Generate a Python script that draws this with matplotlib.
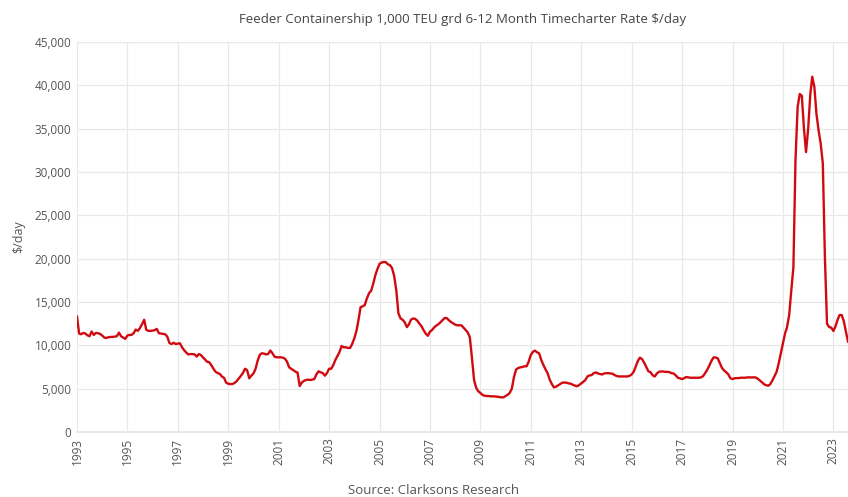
import pandas as pd
import matplotlib.pyplot as plt
import matplotlib.dates as mdates
from matplotlib.ticker import FuncFormatter

# Monthly rates ($/day), Jan 1993 onwards
rates_1993_1997 = [
    13300, 11360, 11280, 11430, 11360, 11160, 11050, 11590, 11200, 11430, 11400, 11320,
    11130, 10890, 10850, 10930, 10970, 10970, 11010, 11050, 11470, 11050, 10890, 10740,
    11130, 11200, 11200, 11400, 11820, 11670, 11980, 12440, 12950, 11800, 11670, 11670,
    11700, 11750, 11900, 11400, 11360, 11320, 11280, 11000, 10270, 10150, 10300, 10150,
    10200, 10230, 9800, 9450, 9180, 8950, 8990, 8990, 8950, 8700, 9000, 8880,
]
rates_1998_2002 = [
    8600, 8350, 8100, 8050, 7700, 7300, 6950, 6800, 6700, 6400, 6250, 5700,
    5570, 5530, 5530, 5650, 5850, 6150, 6460, 6800, 7300, 7150, 6200, 6500,
    6750, 7300, 8200, 8900, 9080, 9050, 8950, 9000, 9400, 9100, 8700, 8620,
    8620, 8620, 8580, 8460, 8120, 7460, 7300, 7150, 6960, 6850, 5300, 5700,
    5900, 6000, 6040, 6000, 6040, 6120, 6650, 7000, 6880, 6800, 6500, 6800,
]
rates_2003_2007 = [
    7300, 7300, 7700, 8300, 8770, 9230, 9920, 9770, 9770, 9700, 9700, 10150,
    10800, 11650, 12900, 14400, 14500, 14650, 15400, 16000, 16300, 17100, 18100, 18800,
    19400, 19560, 19620, 19600, 19350, 19250, 18900, 18000, 16300, 13700, 13100, 12950,
    12650, 12100, 12400, 12950, 13100, 13050, 12850, 12500, 12200, 11750, 11350, 11100,
    11580, 11770, 12050, 12270, 12420, 12650, 12900, 13150, 13150, 12900, 12700, 12550,
]
rates_2008_2012 = [
    12390, 12310, 12310, 12310, 12050, 11770, 11500, 10920, 8500, 6000, 5100, 4700,
    4500, 4270, 4190, 4150, 4150, 4110, 4110, 4110, 4070, 4040, 4000, 4000,
    4150, 4300, 4500, 5000, 6300, 7200, 7380, 7460, 7500, 7580, 7580, 8110,
    8900, 9250, 9390, 9200, 9080, 8320, 7750, 7250, 6790, 6050, 5550, 5150,
    5230, 5380, 5530, 5690, 5710, 5690, 5610, 5570, 5450, 5350, 5270, 5420,
]
rates_2013_2017 = [
    5610, 5800, 6000, 6410, 6530, 6570, 6800, 6870, 6760, 6680, 6640, 6760,
    6790, 6790, 6750, 6720, 6560, 6450, 6410, 6410, 6410, 6410, 6410, 6480,
    6640, 6980, 7560, 8200, 8580, 8400, 8000, 7500, 7000, 6900, 6550, 6400,
    6750, 6950, 6980, 6980, 6940, 6940, 6900, 6790, 6750, 6530, 6260, 6180,
    6110, 6220, 6340, 6300, 6260, 6260, 6260, 6260, 6260, 6300, 6450, 6800,
]
rates_2018_2023 = [
    7200, 7700, 8200, 8600, 8600, 8500, 7950, 7400, 7100, 6900, 6650, 6200,
    6110, 6200, 6220, 6220, 6260, 6260, 6260, 6300, 6300, 6300, 6300, 6300,
    6150, 5950, 5750, 5520, 5400, 5340, 5520, 5950, 6450, 6950, 7950, 9100,
    10250, 11400, 12100, 13500, 16300, 19000, 31300, 37500, 39000, 38800, 35000, 32300,
    35000, 38970, 41000, 39800, 36700, 34800, 33300, 31000, 20000, 12500, 12100, 12050,
    11650, 12200, 12900, 13500, 13500, 12800, 11600, 10440,
]

title = "Feeder Containership 1,000 TEU grd 6-12 Month Timecharter Rate $/day"
source = "Source: Clarksons Research"

rates = (rates_1993_1997 + rates_1998_2002 + rates_2003_2007
         + rates_2008_2012 + rates_2013_2017 + rates_2018_2023)
dates = pd.date_range("1993-01-01", periods=len(rates), freq="MS")

plt.rcParams['font.family'] = ['Open Sans', 'DejaVu Sans']

fig = plt.figure(figsize=(8.48, 4.97), dpi=100)
ax = fig.add_axes([77/848, 1 - 432/497, 1 - 77/848, 390/497])

ax.plot(dates, rates, color="#d10a10", lw=1.7, solid_joinstyle="round", zorder=3)

ax.set_xlim(dates[0], dates[-1])
ax.set_ylim(0, 45000)
ax.set_yticks(range(0, 45001, 5000))
ax.yaxis.set_major_formatter(FuncFormatter(lambda v, p: f"{int(v):,}"))
ax.set_xticks(pd.date_range("1993-01-01", "2023-01-01", freq="2YS"))
ax.xaxis.set_major_formatter(mdates.DateFormatter("%Y"))
plt.setp(ax.get_xticklabels(), rotation=90, va="top", ha="center")

ax.grid(True, color="#e8e8e8", lw=0.9)
ax.set_axisbelow(True)
for s in ["top", "right", "left"]:
    ax.spines[s].set_visible(False)
ax.spines["bottom"].set_color("#e8e8e8")
ax.spines["bottom"].set_linewidth(1.5)
ax.tick_params(length=0, labelsize=8.5, labelcolor="#555555", pad=4)

ax.set_ylabel("$/day", fontsize=9, color="#555555", labelpad=7)
ax.set_title(title, fontsize=9.5, color="#444444", pad=14)
fig.text(434/848, 1 - 490/497, source, ha="center", va="center", fontsize=9.5, color="#555555")

fig.savefig("out.png", dpi=100)
